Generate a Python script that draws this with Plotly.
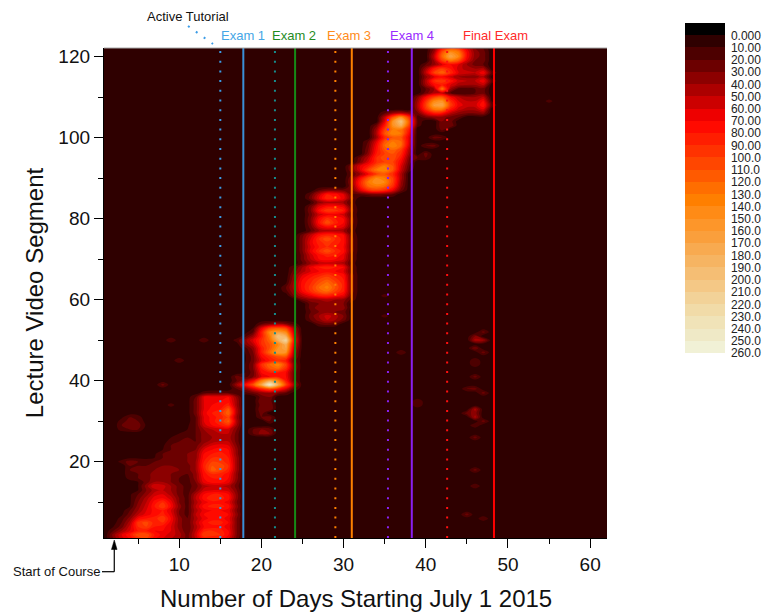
import plotly.graph_objects as go

FONT = "Arial, 'Liberation Sans', sans-serif"

# ---------------- data ----------------
DAYS = list(range(1, 63))          # x: day index
SEGMENTS = list(range(1, 123))     # y: lecture video segment
BACKGROUND = 3                      # typical views outside the active areas

# rows: [segment, first day, views on consecutive days]
WEEKS_1_2 = [
    [1, 2, [30, 55, 70, 90, 100, 70, 60, 50, 40, 25, 50, 80, 80, 75, 60, 25, 3]],
    [2, 2, [35, 60, 80, 110, 110, 80, 65, 55, 45, 25, 55, 100, 95, 90, 70, 30, 3]],
    [3, 2, [20, 40, 60, 80, 80, 70, 70, 60, 40, 20, 50, 85, 90, 85, 70, 30, 3]],
    [4, 2, [10, 25, 55, 90, 100, 80, 75, 60, 35, 20, 45, 70, 75, 75, 65, 30, 3]],
    [5, 2, [5, 20, 45, 95, 105, 85, 90, 65, 35, 20, 50, 75, 85, 85, 70, 30, 3]],
    [6, 2, [3, 15, 35, 70, 80, 85, 100, 70, 35, 20, 45, 65, 75, 75, 65, 30, 3]],
    [7, 2, [3, 8, 25, 50, 65, 75, 85, 65, 30, 15, 50, 70, 80, 80, 70, 35, 3]],
    [8, 2, [3, 5, 20, 40, 60, 75, 80, 60, 30, 15, 45, 65, 70, 70, 65, 30, 3]],
    [9, 2, [3, 5, 10, 35, 55, 80, 100, 70, 35, 15, 50, 75, 85, 85, 75, 35, 3]],
    [10, 2, [3, 5, 8, 30, 50, 75, 90, 65, 30, 15, 45, 65, 75, 75, 65, 30, 3]],
    [11, 2, [3, 5, 8, 25, 45, 65, 70, 55, 30, 15, 50, 75, 90, 85, 75, 35, 3]],
    [12, 2, [3, 5, 8, 20, 35, 55, 60, 45, 25, 15, 45, 70, 80, 80, 70, 35, 3]],
    [13, 2, [3, 3, 5, 10, 30, 45, 50, 40, 25, 15, 30, 55, 60, 60, 55, 30, 3]],
    [14, 2, [3, 3, 5, 10, 35, 60, 55, 40, 25, 15, 25, 45, 50, 50, 45, 25, 3]],
    [15, 2, [3, 3, 5, 10, 25, 40, 40, 30, 20, 15, 30, 65, 75, 75, 65, 30, 3]],
    [16, 2, [3, 3, 15, 20, 25, 35, 35, 30, 20, 15, 35, 70, 80, 80, 70, 35, 3]],
    [17, 2, [3, 3, 20, 20, 25, 35, 40, 30, 25, 20, 35, 75, 90, 85, 75, 35, 3]],
    [18, 2, [3, 3, 20, 25, 25, 30, 40, 35, 30, 25, 40, 80, 115, 105, 85, 40, 3]],
    [19, 2, [3, 3, 20, 20, 20, 25, 30, 30, 30, 25, 40, 85, 110, 110, 90, 40, 3]],
    [20, 2, [3, 15, 25, 20, 15, 20, 25, 30, 30, 30, 40, 80, 100, 95, 85, 40, 3]],
    [21, 2, [3, 3, 8, 8, 8, 10, 20, 30, 30, 30, 35, 75, 90, 90, 80, 40, 3]],
    [22, 2, [3, 3, 3, 5, 5, 8, 20, 25, 30, 30, 35, 70, 80, 85, 75, 35, 3]],
    [23, 2, [3, 3, 3, 3, 3, 5, 10, 20, 25, 25, 30, 60, 70, 75, 70, 35, 3]],
    [24, 2, [3, 3, 3, 3, 3, 5, 8, 20, 25, 25, 25, 45, 60, 65, 60, 30, 3]],
    [25, 2, [3, 3, 3, 3, 3, 3, 5, 15, 20, 25, 20, 35, 45, 50, 50, 25, 3]],
    [26, 2, [3, 3, 3, 3, 3, 3, 5, 10, 20, 20, 20, 35, 40, 45, 45, 25, 3]],
    [27, 2, [3, 3, 3, 3, 3, 3, 3, 5, 10, 15, 20, 35, 45, 50, 50, 25, 3]],
    [28, 2, [3, 15, 20, 20, 3, 3, 3, 3, 5, 10, 20, 40, 50, 55, 55, 30, 3]],
    [29, 2, [3, 20, 25, 25, 8, 3, 3, 3, 3, 8, 20, 55, 70, 80, 90, 40, 3]],
    [30, 2, [3, 15, 25, 20, 5, 3, 3, 3, 3, 5, 20, 60, 75, 90, 115, 45, 3]],
    [31, 2, [3, 8, 20, 15, 3, 3, 3, 3, 3, 5, 20, 60, 75, 85, 100, 40, 3]],
    [32, 2, [3, 3, 5, 5, 3, 3, 3, 3, 3, 5, 25, 65, 80, 90, 120, 45, 3]],
    [33, 2, [3, 3, 3, 3, 3, 3, 3, 3, 3, 5, 25, 60, 75, 80, 110, 45, 3]],
    [34, 2, [3, 3, 3, 3, 3, 3, 3, 3, 3, 5, 25, 60, 70, 75, 85, 40, 3]],
    [35, 2, [3, 3, 3, 3, 3, 3, 3, 3, 3, 5, 25, 60, 70, 70, 75, 40, 3]],
    [36, 2, [3, 3, 3, 3, 3, 3, 3, 3, 3, 5, 20, 60, 65, 65, 70, 35, 3]],
    [37, 2, [3, 3, 3, 3, 3, 3, 3, 3, 3, 3, 5, 15, 20, 20, 20, 10, 3]],
]

BEFORE_EXAM_2 = [
    [27, 19, [20, 35, 30]],
    [28, 19, [20, 30, 25]],
    [30, 21, [20]],
    [31, 20, [20, 25]],
    [32, 20, [25]],
    [33, 20, [30, 30]],
    [34, 20, [25, 30]],
    [35, 20, [30, 25]],
    [36, 20, [25, 30]],
    [37, 16, [3, 3, 15, 25, 35, 40, 30, 20, 5, 3]],
    [38, 16, [3, 20, 35, 60, 90, 110, 90, 60, 20, 3]],
    [39, 16, [5, 40, 70, 110, 170, 250, 180, 100, 40, 5]],
    [40, 16, [3, 20, 40, 70, 130, 170, 140, 80, 25, 3]],
    [41, 16, [3, 5, 15, 30, 60, 70, 80, 70, 25, 3]],
    [42, 16, [3, 3, 10, 25, 70, 80, 80, 70, 25, 3]],
    [43, 16, [3, 3, 10, 30, 80, 110, 120, 90, 30, 3]],
    [44, 16, [3, 3, 10, 30, 90, 120, 140, 100, 30, 3]],
    [45, 16, [3, 3, 8, 25, 60, 80, 90, 80, 25, 3]],
    [46, 16, [3, 3, 8, 25, 70, 90, 110, 110, 35, 3]],
    [47, 16, [3, 3, 10, 30, 80, 120, 160, 150, 40, 3]],
    [48, 16, [3, 3, 15, 35, 80, 110, 150, 170, 50, 5]],
    [49, 16, [3, 5, 30, 50, 90, 110, 140, 180, 60, 5]],
    [50, 16, [3, 5, 35, 60, 90, 120, 180, 220, 70, 5]],
    [51, 16, [3, 3, 15, 40, 80, 130, 200, 180, 60, 5]],
    [52, 16, [3, 3, 5, 20, 80, 140, 160, 140, 50, 3]],
    [53, 16, [3, 3, 3, 10, 60, 100, 110, 100, 40, 3]],
    [54, 16, [3, 3, 3, 3, 20, 30, 40, 30, 15, 3]],
]

BEFORE_EXAM_3 = [
    [54, 23, [3, 3, 3, 3, 20, 25, 20, 3, 3]],
    [55, 23, [3, 3, 3, 20, 35, 50, 40, 25, 3]],
    [56, 23, [3, 3, 3, 25, 40, 55, 45, 30, 3]],
    [57, 23, [3, 3, 3, 20, 30, 35, 30, 25, 3]],
    [58, 23, [3, 3, 3, 25, 35, 40, 40, 35, 3]],
    [59, 23, [3, 3, 3, 25, 30, 35, 35, 30, 3]],
    [60, 23, [3, 3, 25, 35, 40, 45, 40, 35, 15]],
    [61, 23, [3, 30, 50, 65, 80, 85, 75, 65, 20]],
    [62, 23, [15, 40, 70, 90, 110, 120, 100, 80, 25]],
    [63, 23, [20, 45, 75, 95, 120, 135, 110, 85, 25]],
    [64, 23, [10, 45, 75, 90, 110, 125, 105, 85, 25]],
    [65, 23, [5, 40, 70, 85, 100, 110, 95, 80, 25]],
    [66, 23, [3, 35, 60, 75, 85, 95, 85, 75, 25]],
    [67, 23, [3, 25, 45, 60, 70, 75, 70, 60, 20]],
    [68, 23, [3, 20, 40, 65, 80, 85, 80, 70, 20]],
    [69, 23, [3, 3, 20, 40, 50, 55, 50, 45, 15]],
    [70, 23, [3, 3, 25, 50, 70, 75, 70, 60, 20]],
    [71, 23, [3, 3, 25, 55, 75, 85, 80, 65, 20]],
    [72, 23, [3, 3, 30, 65, 90, 110, 90, 75, 25]],
    [73, 23, [3, 3, 30, 60, 80, 90, 80, 70, 25]],
    [74, 23, [3, 3, 30, 65, 85, 95, 85, 75, 25]],
    [75, 23, [3, 3, 30, 60, 90, 110, 90, 75, 25]],
    [76, 23, [3, 3, 25, 50, 75, 85, 80, 70, 20]],
    [77, 23, [3, 3, 3, 20, 40, 45, 45, 40, 15]],
    [78, 23, [3, 3, 3, 25, 60, 75, 70, 60, 20]],
    [79, 23, [3, 3, 3, 30, 75, 110, 85, 70, 25]],
    [80, 23, [3, 3, 3, 30, 70, 95, 80, 70, 25]],
    [81, 23, [3, 3, 3, 25, 55, 65, 65, 55, 20]],
    [82, 23, [3, 3, 3, 30, 75, 100, 95, 80, 25]],
    [83, 23, [3, 3, 3, 25, 60, 75, 75, 65, 20]],
    [84, 23, [3, 3, 3, 10, 35, 45, 45, 40, 15]],
    [85, 23, [3, 3, 3, 25, 60, 90, 80, 65, 25]],
    [86, 23, [3, 3, 3, 20, 50, 80, 75, 60, 20]],
    [87, 23, [3, 3, 3, 3, 20, 30, 30, 25, 3]],
]

BEFORE_EXAM_4 = [
    [86, 31, [3, 20, 25, 30, 25, 20, 3, 3, 3]],
    [87, 31, [25, 60, 90, 100, 90, 65, 25, 3, 3]],
    [88, 31, [30, 80, 120, 130, 120, 90, 35, 3, 3]],
    [89, 31, [35, 85, 130, 150, 140, 100, 40, 3, 3]],
    [90, 31, [30, 70, 110, 140, 130, 100, 45, 3, 3]],
    [91, 31, [20, 40, 70, 100, 110, 90, 45, 3, 3]],
    [92, 31, [30, 60, 100, 130, 140, 110, 55, 15, 3]],
    [93, 31, [30, 60, 80, 110, 130, 110, 60, 20, 3]],
    [94, 31, [3, 30, 60, 90, 100, 100, 70, 25, 3]],
    [95, 31, [3, 25, 50, 90, 110, 110, 80, 30, 3]],
    [96, 31, [3, 3, 35, 80, 100, 110, 90, 40, 3]],
    [97, 31, [3, 3, 30, 75, 110, 120, 100, 45, 3]],
    [98, 31, [3, 3, 25, 70, 120, 140, 120, 55, 3]],
    [99, 31, [3, 3, 20, 60, 110, 130, 120, 60, 3]],
    [100, 31, [3, 3, 3, 40, 90, 110, 110, 60, 3]],
    [101, 31, [3, 3, 3, 45, 110, 140, 130, 70, 3]],
    [102, 31, [3, 3, 3, 40, 100, 130, 130, 80, 3]],
    [103, 31, [3, 3, 3, 25, 80, 150, 180, 100, 15]],
    [104, 31, [3, 3, 3, 3, 60, 150, 200, 110, 20]],
    [105, 31, [3, 3, 3, 3, 50, 110, 150, 90, 15]],
    [106, 31, [3, 3, 3, 3, 20, 40, 50, 35, 3]],
]

BEFORE_FINAL = [
    [95, 39, [20, 20]],
    [96, 40, [25]],
    [98, 40, [20, 25]],
    [100, 41, [25, 20]],
    [102, 42, [25]],
    [103, 42, [30, 30]],
    [104, 42, [30, 25]],
    [105, 39, [3, 25, 35, 35, 25, 20, 3, 3, 3, 3]],
    [106, 39, [25, 60, 80, 75, 50, 35, 30, 30, 35, 3]],
    [107, 39, [40, 90, 130, 130, 80, 55, 45, 45, 60, 5]],
    [108, 39, [45, 100, 160, 170, 100, 65, 55, 55, 80, 20]],
    [109, 39, [40, 90, 140, 150, 90, 60, 50, 50, 70, 10]],
    [110, 39, [30, 70, 100, 110, 70, 50, 40, 40, 50, 5]],
    [111, 39, [3, 25, 45, 50, 20, 10, 10, 20, 25, 3]],
    [112, 39, [3, 20, 40, 130, 40, 15, 15, 20, 25, 3]],
    [113, 39, [3, 40, 70, 80, 60, 45, 40, 40, 50, 5]],
    [114, 39, [3, 45, 90, 100, 80, 55, 50, 50, 70, 20]],
    [115, 39, [3, 35, 60, 70, 55, 40, 35, 35, 45, 5]],
    [116, 39, [3, 50, 100, 120, 90, 60, 55, 50, 70, 20]],
    [117, 39, [3, 40, 80, 100, 80, 55, 45, 40, 45, 5]],
    [118, 39, [3, 20, 35, 60, 70, 60, 40, 25, 20, 3]],
    [119, 39, [3, 3, 40, 100, 130, 110, 60, 30, 25, 3]],
    [120, 39, [3, 3, 50, 120, 170, 140, 70, 35, 25, 3]],
    [121, 39, [3, 3, 40, 110, 150, 130, 70, 35, 25, 3]],
    [122, 39, [3, 3, 30, 80, 110, 100, 60, 30, 20, 3]],
]

# isolated review spots: [day, segment, views]
SPOTS = [
    [46, 50, 45], [47, 50, 40], [46, 51, 30], [47, 52, 25], [46, 48, 30],
    [47, 47, 25], [46, 44, 20], [46, 45, 20], [46, 41, 25], [46, 38, 25],
    [47, 37, 25], [45, 38, 20], [46, 33, 45], [46, 31, 45], [46, 32, 35],
    [45, 32, 25], [47, 30, 25], [46, 29, 20], [46, 26, 25], [46, 18, 25],
    [46, 14, 20], [45, 7, 25], [47, 6, 20], [39, 34, 20], [39, 35, 20],
    [37, 47, 20], [35, 61, 15], [35, 56, 15], [9, 50, 20], [13, 50, 20],
    [10, 45, 20], [8, 39, 25], [17, 50, 15], [9, 34, 15], [55, 109, 15],
    [17, 41, 25],
]

# exam / tutorial markers (day)
EXAM_NAMES = ["Exam 1", "Exam 2", "Exam 3", "Exam 4", "Final Exam"]
EXAM_DAYS = [17.8, 24.1, 31.0, 38.3, 48.3]
TUTORIAL_DAYS = [15.0, 21.65, 29.0, 35.4, 42.6]
EXAM_LABEL_DAYS = [17.8, 24.0, 30.6, 38.3, 48.5]
EXAM_LINE_COLORS = ["#3a8fd8", "#168a16", "#ff8000", "#8a1ff0", "#ff0000"]
EXAM_TEXT_COLORS = ["#45a6e6", "#1f8c1f", "#ff8c1a", "#9a2cff", "#ff2a2a"]
TUTORIAL_COLORS = ["#3a9be6", "#158c8c", "#ff8000", "#8a1ff0", "#ff1010"]
COURSE_START_DAY = 2.1

# colour levels (views) and band colours
LEVELS = list(range(0, 270, 10))
UNDER_COLOR = "#000000"
BAND_COLORS = [
    "#2f0000", "#4d0000", "#6c0000", "#8c0000", "#ac0000", "#cc0000",
    "#ee0000", "#ff0a00", "#ff1e00", "#ff3200", "#ff4600", "#ff5a00",
    "#ff6e00", "#ff7f00", "#ff8b16", "#fd962a", "#fa9f3c", "#f8aa50",
    "#f6b462", "#f5be74", "#f4c886", "#f2d298", "#f1dba8", "#f0e3b8",
    "#efe9c6", "#f1f1d6",
]

# ---------------- build figure ----------------
grid = [[BACKGROUND for _ in DAYS] for _ in SEGMENTS]
for block in (WEEKS_1_2, BEFORE_EXAM_2, BEFORE_EXAM_3, BEFORE_EXAM_4, BEFORE_FINAL):
    for seg, d0, vals in block:
        for k, v in enumerate(vals):
            i, j = seg - 1, d0 + k - 1
            grid[i][j] = max(grid[i][j], v)
for d, s, v in SPOTS:
    grid[s - 1][d - 1] = max(grid[s - 1][d - 1], v)

n_fill = len(BAND_COLORS) + 2
fill_colors = [BAND_COLORS[0]] + BAND_COLORS + [BAND_COLORS[-1]]
fill_scale = [[k / (n_fill - 1), c] for k, c in enumerate(fill_colors)]

cb_colors = list(reversed(BAND_COLORS)) + [UNDER_COLOR]
nb = len(cb_colors)
cb_scale = []
for j, c in enumerate(cb_colors):
    cb_scale.append([j / nb, c])
    cb_scale.append([(j + 1) / nb, c])


def level_label(v):
    if v == 0:
        return "0.000"
    if v < 100:
        return f"{v:.2f}"
    return f"{v:.1f}"


X_RANGE = [0.85, 62.05]
Y_RANGE = [1.2, 122.1]

fig = go.Figure()
fig.add_trace(go.Contour(
    x=DAYS, y=SEGMENTS, z=grid,
    autocontour=False,
    contours=dict(start=LEVELS[0], end=LEVELS[-1], size=10,
                  coloring="fill", showlines=False),
    line=dict(width=0, smoothing=1),
    colorscale=fill_scale, showscale=False, hoverinfo="skip",
))
fig.add_trace(go.Scatter(
    x=[None], y=[None], mode="markers", showlegend=False, hoverinfo="skip",
    marker=dict(
        color=[0], colorscale=cb_scale, cmin=-LEVELS[-1], cmax=10, showscale=True,
        colorbar=dict(
            xref="container", yref="container",
            x=685 / 766, xanchor="left", xpad=0,
            y=1 - 29 / 612, yanchor="top", ypad=0,
            thickness=40, thicknessmode="pixels",
            len=330, lenmode="pixels",
            outlinewidth=0,
            tickmode="array",
            tickvals=[-v for v in LEVELS],
            ticktext=[level_label(v) for v in LEVELS],
            ticks="outside", ticklen=4, tickcolor="rgba(0,0,0,0)",
            tickfont=dict(family=FONT, size=12, color="#222222"),
        ),
    ),
))

shapes = []
W, H = 503.0, 490.0
for d, c in zip(EXAM_DAYS, EXAM_LINE_COLORS):
    shapes.append(dict(type="line", xref="x", yref="paper", x0=d, x1=d, y0=0, y1=1,
                       line=dict(color=c, width=2)))
for d, c in zip(TUTORIAL_DAYS, TUTORIAL_COLORS):
    shapes.append(dict(type="line", xref="x", yref="paper", x0=d, x1=d, y0=0, y1=1,
                       line=dict(color=c, width=2, dash="2px,7.7px")))
# top frame line
shapes.append(dict(type="line", xref="paper", yref="paper", x0=0, x1=1, y0=1, y1=1,
                   line=dict(color="#a8a8a8", width=1)))
# Active tutorial pointer
shapes.append(dict(type="line", xref="paper", yref="paper",
                   x0=(188 - 104) / W, y0=(538 - 26) / H,
                   x1=(213 - 104) / W, y1=(538 - 44) / H,
                   line=dict(color="#3a9be6", width=2, dash="2px,7.7px")))
# Start of course arrow
ax_p = (COURSE_START_DAY - X_RANGE[0]) / (X_RANGE[1] - X_RANGE[0])
y_txt = (538 - 571.7) / H
shapes.append(dict(type="line", xref="paper", yref="paper",
                   x0=(102 - 104) / W, x1=ax_p, y0=y_txt, y1=y_txt,
                   line=dict(color="black", width=1.2)))
shapes.append(dict(type="line", xref="paper", yref="paper",
                   x0=ax_p, x1=ax_p, y0=y_txt, y1=(538 - 548) / H,
                   line=dict(color="black", width=1.2)))
hw = 2.8 / W
shapes.append(dict(type="path", xref="paper", yref="paper",
                   path=f"M {ax_p},{(538 - 540) / H} L {ax_p + hw},{(538 - 549.5) / H} "
                        f"L {ax_p - hw},{(538 - 549.5) / H} Z",
                   fillcolor="black", line=dict(color="black", width=0.5)))

annotations = []
for name, d, c in zip(EXAM_NAMES, EXAM_LABEL_DAYS, EXAM_TEXT_COLORS):
    annotations.append(dict(text=name, xref="x", yref="paper", x=d, y=(538 - 36) / H,
                            xanchor="center", yanchor="middle", showarrow=False,
                            font=dict(family=FONT, size=13, color=c)))
annotations.append(dict(text="Active Tutorial", xref="paper", yref="paper",
                        x=(188 - 104) / W, y=(538 - 16) / H, xanchor="center",
                        yanchor="middle", showarrow=False,
                        font=dict(family=FONT, size=13, color="#111111")))
annotations.append(dict(text="Start of Course", xref="paper", yref="paper",
                        x=(101.5 - 104) / W, y=y_txt, xanchor="right",
                        yanchor="middle", showarrow=False,
                        font=dict(family=FONT, size=13, color="#111111")))
# x-axis title placed as text below the tick labels
annotations.append(dict(text="Number of Days Starting July 1 2015", xref="paper",
                        yref="paper", x=(356 - 104) / W, y=(538 - 598) / H,
                        xanchor="center", yanchor="middle", showarrow=False,
                        font=dict(family=FONT, size=24, color="#111111")))

fig.update_layout(
    width=766, height=612,
    margin=dict(l=104, r=159, t=48, b=74, autoexpand=False),
    paper_bgcolor="white", plot_bgcolor=BAND_COLORS[0],
    font=dict(family=FONT, color="black"),
    shapes=shapes, annotations=annotations,
    xaxis=dict(
        range=X_RANGE, tickmode="array", tickvals=[10, 20, 30, 40, 50, 60],
        ticks="outside", ticklen=9, tickwidth=1.3, tickcolor="black",
        minor=dict(dtick=5, tick0=0, ticks="outside", ticklen=5, tickwidth=1.3,
                   tickcolor="black"),
        showline=True, linecolor="black", linewidth=1.3,
        showgrid=False, zeroline=False, automargin=False,
        tickfont=dict(family=FONT, size=19, color="#111111"),
    ),
    yaxis=dict(
        range=Y_RANGE, tickmode="array", tickvals=[20, 40, 60, 80, 100, 120],
        ticks="outside", ticklen=9, tickwidth=1.3, tickcolor="black",
        minor=dict(dtick=10, tick0=0, ticks="outside", ticklen=5, tickwidth=1.3,
                   tickcolor="black"),
        showline=True, linecolor="black", linewidth=1.3,
        showgrid=False, zeroline=False, automargin=False,
        tickfont=dict(family=FONT, size=19, color="#111111"),
        title=dict(text="Lecture Video Segment",
                   font=dict(family=FONT, size=24, color="#111111"), standoff=7),
    ),
)

fig.write_html("out.html")
